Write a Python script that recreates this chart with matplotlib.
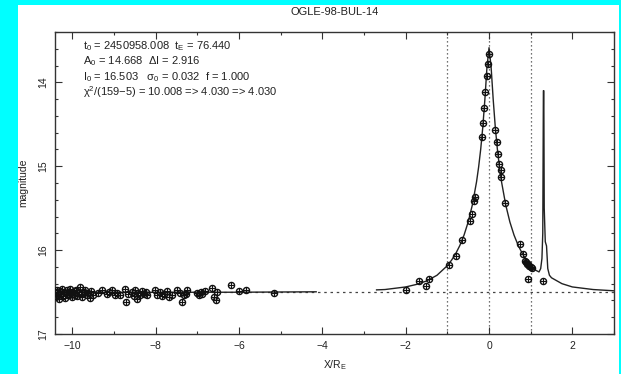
import matplotlib
matplotlib.use("Agg")
import matplotlib.pyplot as plt
from matplotlib.patches import Rectangle
from matplotlib.ticker import MultipleLocator

plt.rcParams['font.family'] = ['Liberation Sans', 'DejaVu Sans']
plt.rcParams['mathtext.fontset'] = 'custom'
plt.rcParams['mathtext.rm'] = 'Liberation Sans'
plt.rcParams['mathtext.it'] = 'Liberation Sans'

title = "OGLE-98-BUL-14"
baseline_mag = 16.503
guide_x = [-1, 0, 1]

# baseline photometry
base_x = [-10.42, -10.40, -10.37, -10.35, -10.33, -10.30, -10.28, -10.25, -10.22, -10.20,
          -10.17, -10.14, -10.12, -10.09, -10.06, -10.03, -10.00, -9.97, -9.94, -9.91,
          -9.88, -9.85, -9.82, -9.79, -9.76, -9.72, -9.69, -9.66, -9.62, -9.58,
          -9.55, -9.51, -9.38, -9.29, -9.17, -9.12, -9.05, -8.98, -8.93, -8.86,
          -8.74, -8.72, -8.67, -8.57, -8.53, -8.50, -8.46, -8.42, -8.38, -8.33,
          -8.28, -8.24, -8.21, -8.02, -7.97, -7.90, -7.86, -7.80, -7.74, -7.68,
          -7.62, -7.48, -7.43, -7.38, -7.33, -7.27, -7.24, -7.00, -6.96, -6.92,
          -6.88, -6.83, -6.64, -6.60, -6.56, -6.52, -6.19, -6.00, -5.83, -5.17]
base_mag = [16.50, 16.55, 16.47, 16.53, 16.58, 16.49, 16.52, 16.46, 16.55, 16.50,
            16.57, 16.48, 16.52, 16.54, 16.46, 16.51, 16.56, 16.49, 16.53, 16.47,
            16.55, 16.50, 16.44, 16.52, 16.56, 16.50, 16.48, 16.54, 16.51, 16.57,
            16.49, 16.53, 16.51, 16.48, 16.52, 16.50, 16.47, 16.53, 16.51, 16.54,
            16.46, 16.62, 16.52, 16.50, 16.55, 16.47, 16.58, 16.51, 16.53, 16.49,
            16.52, 16.50, 16.54, 16.48, 16.53, 16.50, 16.55, 16.52, 16.49, 16.56,
            16.53, 16.47, 16.51, 16.62, 16.54, 16.52, 16.48, 16.51, 16.53, 16.50,
            16.52, 16.49, 16.45, 16.56, 16.60, 16.50, 16.42, 16.49, 16.48, 16.51]

# event photometry
peak_x = [-1.99, -1.67, -1.52, -1.44, -0.96, -0.80, -0.64, -0.46, -0.42, -0.36,
          -0.34, -0.17, -0.14, -0.11, -0.09, -0.05, -0.03, 0.00, 0.15, 0.19,
          0.21, 0.25, 0.28, 0.29, 0.39, 0.75, 0.81, 0.86, 0.89, 0.92,
          0.94, 0.97, 1.00, 1.03, 0.94, 1.30]
peak_mag = [16.47, 16.37, 16.43, 16.35, 16.18, 16.07, 15.88, 15.65, 15.57, 15.41,
            15.37, 14.65, 14.49, 14.31, 14.12, 13.92, 13.78, 13.66, 14.57, 14.71,
            14.85, 14.97, 15.05, 15.13, 15.44, 15.93, 16.05, 16.13, 16.14, 16.17,
            16.16, 16.19, 16.20, 16.21, 16.35, 16.37]

# model curve (two drawn segments)
model1_x = [-10.42, -8.0, -6.0, -4.15]
model1_mag = [16.503, 16.503, 16.502, 16.497]
model2_x = [-2.7, -2.5, -2.0, -1.75, -1.5, -1.25, -1.0, -0.9, -0.8, -0.7,
            -0.6, -0.5, -0.4, -0.3, -0.25, -0.2, -0.15, -0.1, -0.05, 0.0,
            0.05, 0.1, 0.15, 0.2, 0.25, 0.3, 0.4, 0.5, 0.6, 0.7,
            0.8, 0.9, 1.0, 1.1, 1.2, 1.24, 1.27, 1.29, 1.305, 1.315,
            1.325, 1.35, 1.38, 1.41, 1.45, 1.5, 1.75, 2.0, 2.5, 3.0]
model2_mag = [16.474, 16.470, 16.439, 16.41, 16.368, 16.30, 16.185, 16.12, 16.042, 15.944,
              15.821, 15.664, 15.46, 15.186, 15.01, 14.797, 14.534, 14.205, 13.82, 13.587,
              13.82, 14.205, 14.534, 14.797, 15.01, 15.186, 15.46, 15.664, 15.821, 15.944,
              16.042, 16.12, 16.185, 16.235, 16.26, 16.22, 16.10, 15.80, 14.10, 14.10,
              15.50, 15.90, 15.95, 16.22, 16.30, 16.33, 16.40, 16.439, 16.47, 16.485]

info_lines = [
    r"t$_0$ = 2450958.008  t$_E$ = 76.440",
    r"A$_0$ = 14.668  ΔI = 2.916",
    r"I$_0$ = 16.503   σ$_0$ = 0.032  f = 1.000",
    r"χ$^2$/(159−5) = 10.008 => 4.030 => 4.030",
]

W, H = 621, 374
fig = plt.figure(figsize=(W / 100, H / 100), dpi=100)
fig.patch.set_facecolor('#00FFFF')
fig.patches.append(Rectangle((18 / W, 0), (619 - 18) / W, (H - 5) / H,
                             transform=fig.transFigure, facecolor='white',
                             edgecolor='none', zorder=-5))

L, R, T, B = 55, 614, 32, 334
ax = fig.add_axes([L / W, 1 - B / H, (R - L) / W, (B - T) / H])
ax.set_zorder(2)
ax.set_facecolor('white')
ax.set_xlim(-10.42, 3.0)
ax.set_ylim(17.0, 13.4)

for gx in guide_x:
    ax.axvline(gx, color='#444444', lw=0.9, ls=(0, (1, 2.2)), zorder=1)
ax.axhline(baseline_mag, color='#444444', lw=0.9, ls=(0, (2, 3)), zorder=1)

ax.plot(model1_x, model1_mag, color='#222222', lw=1.0, zorder=2)
ax.plot(model2_x, model2_mag, color='#222222', lw=1.0, zorder=2)

for xs, ys in ((base_x, base_mag), (peak_x, peak_mag)):
    ax.plot(xs, ys, ls='none', marker='o', ms=4.4, mfc='none', mec='#111111', mew=1.0, zorder=3)
    ax.plot(xs, ys, ls='none', marker='+', ms=4.6, mec='#111111', mew=0.8, zorder=3)

ax.xaxis.set_major_locator(MultipleLocator(2))
ax.xaxis.set_minor_locator(MultipleLocator(1))
ax.yaxis.set_major_locator(MultipleLocator(1))
ax.yaxis.set_minor_locator(MultipleLocator(0.2))
ax.tick_params(which='both', direction='in', top=True, right=True, colors='#333333',
               labelsize=7.5, labelcolor='#222222', width=0.8)
ax.tick_params(which='major', length=5)
ax.tick_params(which='minor', length=2.5)
ax.tick_params(axis='x', pad=5)
ax.tick_params(axis='y', pad=5)
ax.set_xticks([-10, -8, -6, -4, -2, 0, 2])
ax.set_xticklabels(['−10', '−8', '−6', '−4', '−2', '0', '2'])
ax.set_yticks([14, 15, 16, 17])
ax.set_yticklabels(['14', '15', '16', '17'], rotation=90, va='center')

for s in ax.spines.values():
    s.set_color('#333333')
    s.set_linewidth(1.0)

ax.set_xlabel(r"X/R$_E$", fontsize=7.5, color='#222222', labelpad=5)
ax.set_ylabel("magnitude", fontsize=7.5, color='#222222', labelpad=7)

fig.text((L + R) / 2 / W, 1 - 12 / H, title, ha='center', va='center',
         fontsize=8, color='#222222')

for i, line in enumerate(info_lines):
    fig.text(83 / W, 1 - (46 + 15.3 * i) / H, line, ha='left', va='center',
             fontsize=8, color='#222222')

fig.savefig('out.png', dpi=100, facecolor=fig.get_facecolor())
